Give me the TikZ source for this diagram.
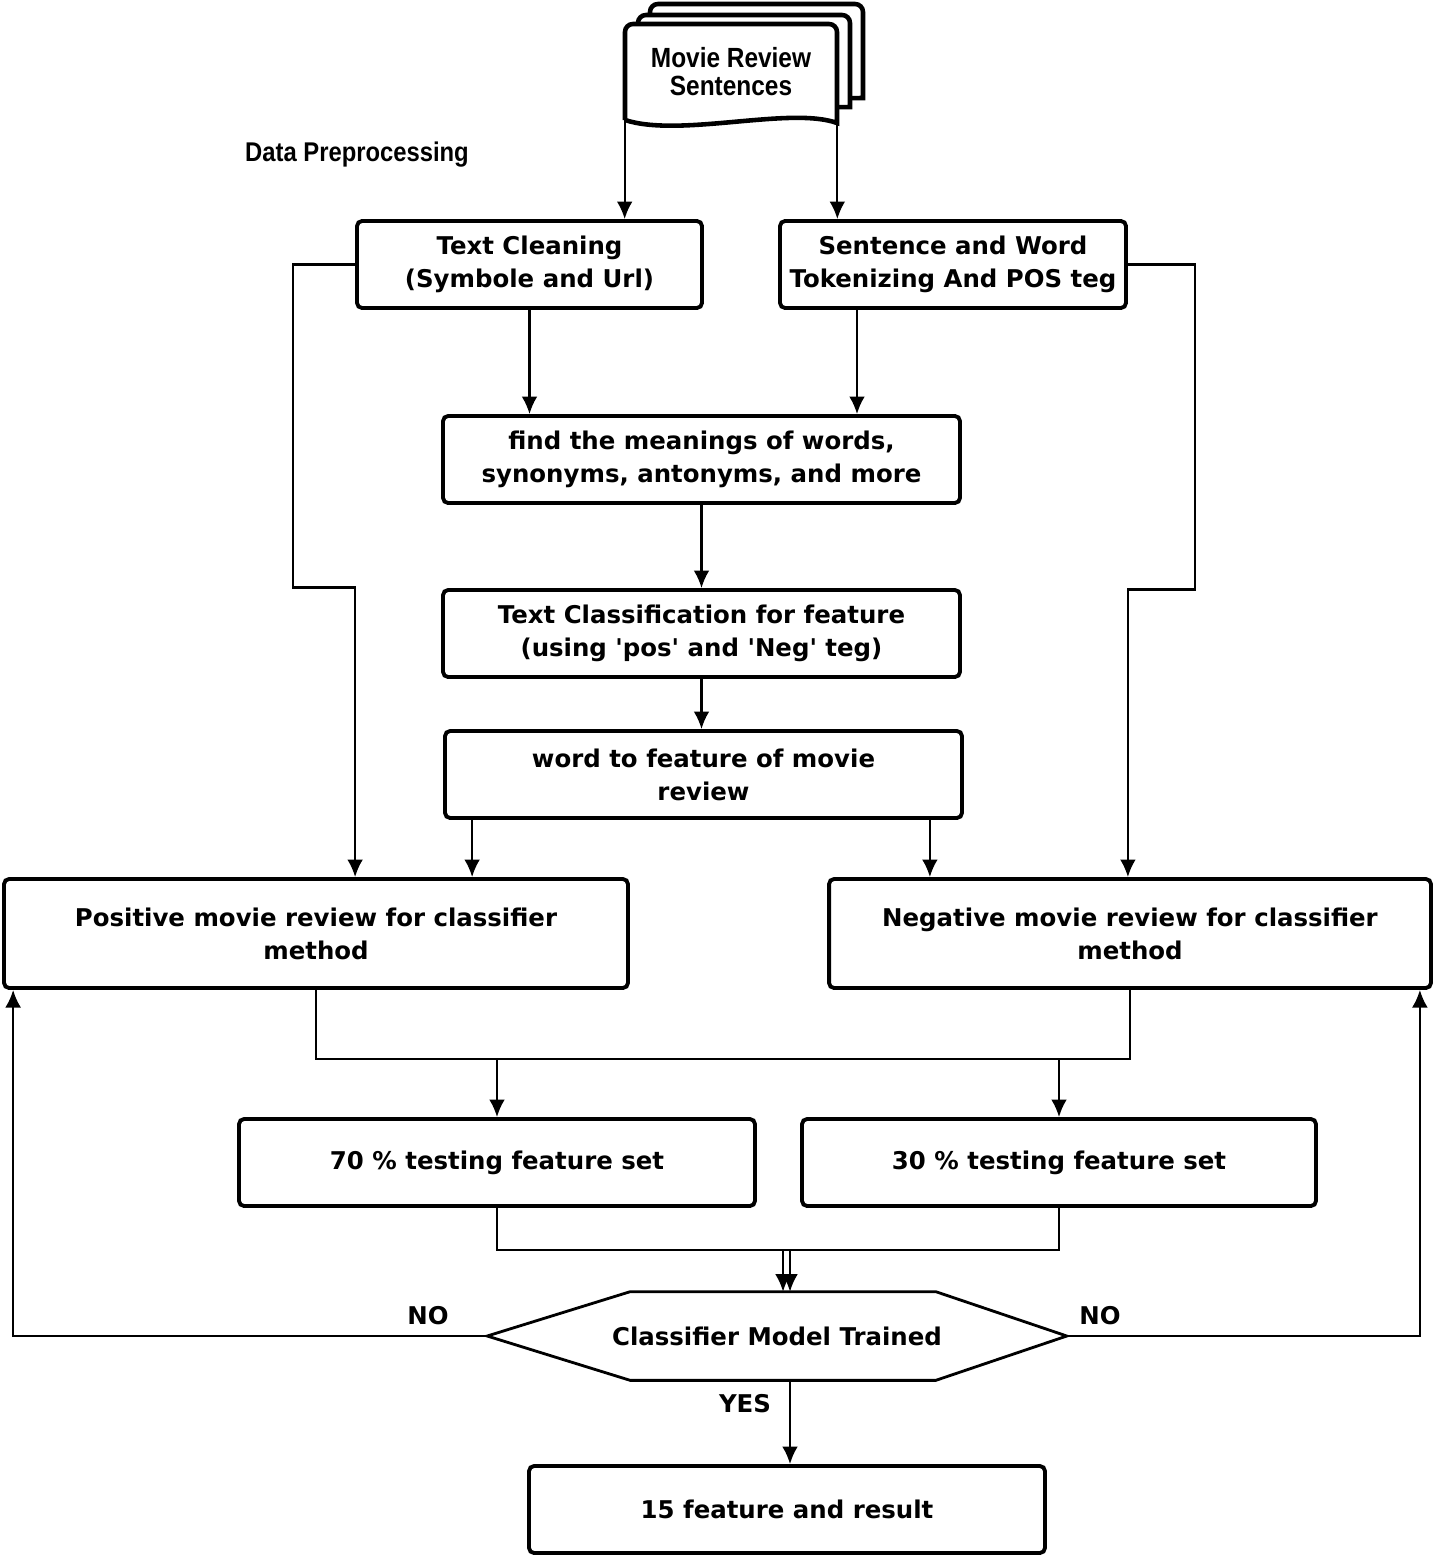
\documentclass[tikz,border=0pt]{standalone}
\usepackage{fontspec}
\setmainfont{DejaVu Sans}
\newfontfamily\docfont{Liberation Sans}[FakeStretch=0.88]
\usetikzlibrary{arrows.meta,calc}

\begin{document}
\begin{tikzpicture}[x=0.02cm,y=-0.02cm,
    box/.style={draw,line width=2.2pt,rounded corners=0.1cm,align=center,
      minimum height=1.74cm,font=\bfseries\fontsize{13.9}{18.7}\selectfont},
    page/.style={draw,fill=white,line width=2.6pt,rounded corners=0.16cm},
    arr/.style={-{Latex[length=10pt,width=9pt]},line width=1.3pt},
    link/.style={line width=1.3pt},
    lbl/.style={font=\bfseries\fontsize{13.9}{15}\selectfont}]
  \useasboundingbox (0,0) rectangle (1437,1555);

  % stacked document
  \draw[page] (650,100) -- (650,4) -- (863,4) [sharp corners]-- (863,98) -- (650,100);
  \draw[page] (638,110) -- (638,15) -- (850,15) [sharp corners]-- (850,107) -- (638,110);
  \draw[page] (625,120) -- (625,24) -- (837,24) [sharp corners]-- (837,123)
    .. controls (790,106) and (680,138) .. (625,120);
  \node[font=\docfont\bfseries\fontsize{15.8}{16}\selectfont,align=center,
    minimum width=4.24cm,minimum height=1.92cm] (doc) at (731,72) {Movie Review\\Sentences};
  \node[font=\docfont\bfseries\fontsize{15.4}{16}\selectfont] (prep) at (357,155) {Data Preprocessing};

  % boxes
  \node[box,minimum width=6.9cm] (clean) at (529.5,264.5) {Text Cleaning\\(Symbole and Url)};
  \node[box,minimum width=6.92cm] (token) at (953,264.5) {Sentence and Word\\Tokenizing And POS teg};
  \node[box,minimum width=10.34cm] (meaning) at (701.5,459.5) {find the meanings of words,\\synonyms, antonyms, and more};
  \node[box,minimum width=10.34cm] (classify) at (701.5,633.5) {Text Classification for feature\\(using \textquotesingle pos\textquotesingle\ and \textquotesingle Neg\textquotesingle\ teg)};
  \node[box,minimum width=10.34cm] (wordfeat) at (703.5,774.5) {word to feature of movie\\review};
  \node[box,minimum width=12.48cm,minimum height=2.18cm] (pos) at (316,933.5) {Positive movie review for classifier\\method};
  \node[box,minimum width=12.04cm,minimum height=2.18cm] (neg) at (1130,933.5) {Negative movie review for classifier\\method};
  \node[box,minimum width=10.32cm] (train) at (497,1162.5) {70 \% testing feature set};
  \node[box,minimum width=10.28cm] (test) at (1059,1162.5) {30 \% testing feature set};
  \node[lbl,minimum width=11.58cm,minimum height=1.76cm] (trained) at (777,1336) {Classifier Model Trained};
  \draw[line width=1.6pt] (trained.west) -- ($(trained.north west)+(143,0)$)
    -- ($(trained.north east)+(-131,0)$) -- (trained.east)
    -- ($(trained.south east)+(-131,0)$) -- ($(trained.south west)+(143,0)$) -- cycle;
  \node[box,minimum width=10.32cm] (result) at (787,1509.5) {15 feature and result};

  \node[lbl] (noleft) at (428,1316) {NO};
  \node[lbl] (noright) at (1100,1316) {NO};
  \node[lbl] (yes) at (745,1404) {YES};

  \coordinate (tk) at ($(token.south)+(-96,0)$);
  \coordinate (wl) at ($(wordfeat.south west)+(29,0)$);
  \coordinate (wr) at ($(wordfeat.south east)+(-34,0)$);
  \coordinate (jl) at ($(trained.north)+(6,0)$);
  \coordinate (jr) at ($(trained.north)+(13,0)$);
  \coordinate (yl) at ($(trained.south)+(13,0)$);
  \coordinate (nl) at ($(pos.south west)+(11,0)$);
  \coordinate (nr) at ($(neg.south east)+(-13,0)$);

  % connectors
  \begin{scope}[arr]
    \draw (doc.south west) -- (doc.south west |- clean.north);
    \draw (doc.south east) -- (doc.south east |- token.north);
    \draw (clean.south) -- (clean.south |- meaning.north);
    \draw (tk) -- (tk |- meaning.north);
    \draw (meaning.south) -- (meaning.south |- classify.north);
    \draw (classify.south) -- (classify.south |- wordfeat.north);
    \draw (wl) -- (wl |- pos.north);
    \draw (wr) -- (wr |- neg.north);
    \draw (clean.west) -- ++(-62,0) -- ++(0,323) -| (pos.north -| clean.west);
    \draw (token.east) -- ++(67,0) -- ++(0,325) -| (neg.north -| token.east);
    \draw[link,-] (pos.south) -- ++(0,69) coordinate (split) -| (neg.south);
    \draw (split -| train.north) -- (train.north);
    \draw (split -| test.north) -- (test.north);
    \draw[link,-] (train.south) -- ++(0,42) coordinate (join) -| (test.south);
    \draw (join -| jl) -- (jl);
    \draw (join -| jr) -- (jr);
    \draw (trained.west) -| (nl);
    \draw (trained.east) -| (nr);
    \draw (yl) -- (yl |- result.north);
  \end{scope}
\end{tikzpicture}
\end{document}
